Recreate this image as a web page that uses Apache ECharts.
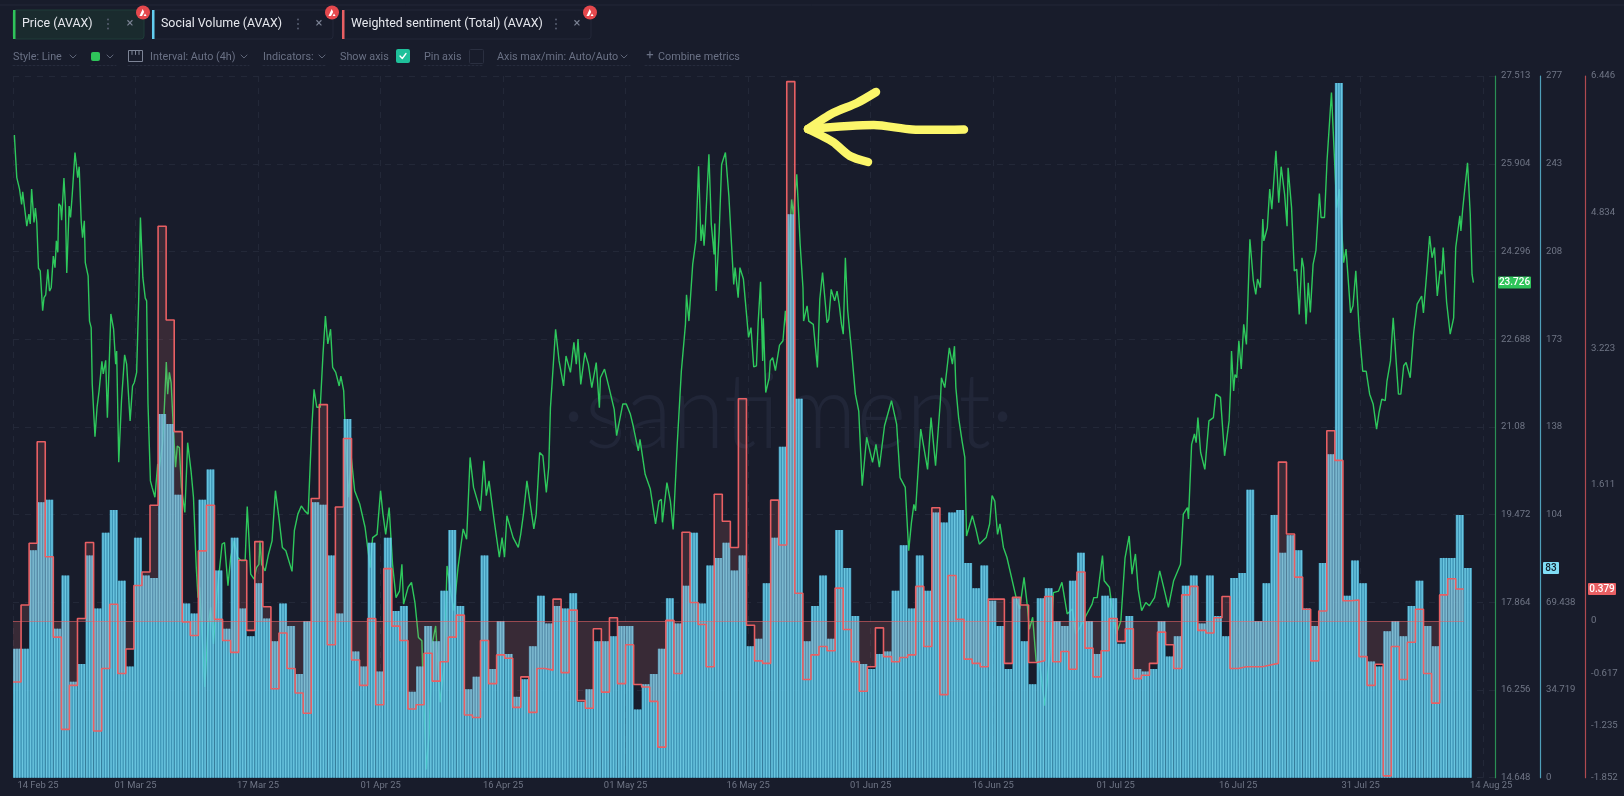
<!DOCTYPE html>
<html><head><meta charset="utf-8"><style>html,body{margin:0;padding:0;background:#181c2b}#c{width:1624px;height:796px}</style>
<script src="https://cdn.jsdelivr.net/npm/echarts@6/dist/echarts.min.js"></script></head><body><div id="c"></div>
<script>
const xTickLabels=['14 Feb 25','01 Mar 25','17 Mar 25','01 Apr 25','16 Apr 25','01 May 25','16 May 25','01 Jun 25','16 Jun 25','01 Jul 25','16 Jul 25','31 Jul 25','14 Aug 25'];
const xTickDays=[3.1,15.2,30.4,45.6,60.8,76,91.2,106.4,121.6,136.8,152,167.2,183.4];
const priceTicks=[14.648,16.256,17.864,19.472,21.08,22.688,24.296,25.904,27.513];
const volumeTicks=[0,34.719,69.438,104.157,138.875,173.6,208.3,243.03,277.75];
const sentimentTicks=[-1.852,-1.235,-0.617,0,1.611,3.223,4.834,6.446];
const socialVolume=[51,51,90,109,110,59,80,38,45,88,67,97,106,78,44,95,80,79,144,140,112,69,65,110,122,82,59,95,67,56,77,63,54,69,60,41,62,109,108,88,65,142,50,44,93,42,95,66,68,34,44,60,54,74,98,68,35,40,88,43,62,49,32,39,52,
72,61,68,67,73,30,35,54,54,56,60,60,27,37,41,51,71,61,76,97,69,84,87,93,82,88,52,55,77,95,131,223,150,54,68,80,55,98,83,64,45,43,49,50,74,92,67,88,74,105,101,105,106,85,75,84,70,60,43,71,54,37,71,75,62,60,78,
89,62,49,72,71,53,64,43,42,43,62,48,56,76,80,61,80,64,56,79,81,114,62,77,104,89,96,90,67,60,85,128,275,72,86,77,46,44,58,62,56,68,78,60,52,87,87,104,83];
const sentiment=[-0.72,0.19,0.92,2.12,0.76,-0.19,-1.28,-0.76,0.03,0.93,-1.30,-0.56,0.20,-0.62,-0.33,0.42,0.58,1.37,4.67,3.56,2.24,-0.01,-0.17,0.83,1.37,0.02,-0.23,-0.37,0.72,-0.11,0.94,0.17,-0.80,-0.14,-0.56,-0.85,-1.09,1.45,2.56,-0.28,1.35,2.16,-0.46,-0.76,0.03,-0.99,0.62,-0.06,-0.23,-1.04,-0.99,-0.38,-0.71,-0.48,-0.19,0.07,-1.11,-1.14,-0.23,-0.74,-0.40,-0.44,-1.02,-0.66,-1.08,
-0.56,-0.58,0.26,-0.61,0.13,-0.94,-1.03,-0.09,-0.84,0.04,-0.74,-0.28,-0.75,-0.78,-0.95,-1.49,0.01,-0.62,1.05,0.22,-0.04,-0.54,1.50,1.18,0.87,2.63,-0.05,-0.47,-0.50,1.43,0.90,6.38,0.33,-0.69,-0.40,-0.30,-0.35,0.39,-0.10,-0.48,-0.83,-0.54,-0.08,-0.42,-0.48,-0.43,-0.40,0.41,-0.30,1.34,-0.87,0.54,0.02,-0.45,-0.50,-0.54,0.26,0.26,-0.50,0.28,0.19,-0.49,-0.47,0.29,-0.48,-0.36,-0.57,
0.58,-0.32,-0.66,-0.35,0.03,-0.24,-0.09,-0.68,-0.64,-0.50,-0.13,-0.28,-0.56,0.31,0.41,-0.11,-0.14,0.04,0.29,-0.56,-0.54,-0.54,-0.54,-0.52,-0.50,1.88,1.03,0.52,0.14,-0.47,0.12,2.25,1.90,0.24,0.25,-0.42,-0.76,-0.51,-1.83,-0.30,-0.69,-0.25,0.14,-0.62,-0.97,0.31,0.50,0.379];
const pricePoints=[[.17,26.43],[.47,25.65],[.81,25.44],[1.07,25.16],[1.2,25.39],[1.37,25.39],[1.71,24.76],[1.97,24.98],[2.14,24.8],[2.31,25.44],[2.61,24.83],[2.78,25.09],[2.95,24.83],[3.16,23.99],[3.38,23.94],[3.68,23.21],[3.85,23.45],[4.06,23.5],[4.32,23.97],[4.53,23.57],[4.74,23.63],[5,24.21],[5.21,24],[5.38,24.49],[5.56,24.28],[5.68,25.17],[5.9,25.13],[6.03,24.87],[6.32,25.64],[6.5,25.16],[6.67,23.9],[6.97,25.13],[7.14,24.92],[7.35,25.34],[7.69,26.11],[8.03,25.65],[8.21,25.85],[8.46,24.86],[8.63,24.55],[8.85,24.86],[8.97,24.09],[9.32,23.85],[9.49,23.02],[9.7,22.9],[9.83,21.87],[10.04,21.86],[10.17,20.9],[10.43,21.44],[10.68,21.74],[11.03,22.28],[11.2,22.05],[11.5,22.3],[11.71,21.25],[12.14,23.15],[12.48,22.87],[12.74,22.23],[12.86,22.47],[13.12,20.43],[13.46,21.56],[13.85,22.4],[14.1,22.23],[14.53,21.19],[14.83,21.83],[15.04,21.89],[15.34,22.08],[15.6,23.45],[15.81,24.92],[16.11,23.82],[16.41,23.44],[16.58,23.39],[16.75,21.5],[17.05,20.09],[17.26,19.97],[17.61,19.79],[17.95,20.4],[18.12,20.28],[18.55,20.76],[18.8,21.5],[19.02,22.27],[19.19,21.68],[19.4,22.08],[19.62,21.89],[19.91,21.01],[20.17,20.34],[20.38,20.73],[20.64,20.7],[20.9,19.97],[21.32,19.51],[21.67,20.79],[22.09,20.27],[22.39,19.79],[22.74,18.5],[22.95,17.95],[23.16,18.14],[23.8,16.31],[24.23,17.47],[24.53,17.77],[24.87,17.1],[25.3,18.01],[25.94,18.93],[26.24,18.96],[26.67,18.17],[27.01,18.69],[27.44,18.99],[27.86,18.69],[28.29,18.63],[28.8,18.63],[29.06,19.62],[29.27,19.05],[29.49,18.38],[29.91,18.29],[30.21,18.5],[30.51,18.56],[30.64,18.99],[30.85,18.56],[31.28,18.44],[31.71,18.75],[32.14,18.99],[32.56,19.91],[32.99,19.42],[33.42,18.87],[33.85,18.81],[34.62,18.43],[34.91,19.18],[35.34,19.48],[35.77,19.63],[36.2,19.54],[36.62,19.48],[37.05,21.01],[37.35,21.77],[37.69,21.44],[38.12,21.44],[38.46,22.41],[38.76,23.11],[39.06,22.6],[39.4,22.87],[39.66,22.17],[40.04,22.08],[40.47,21.83],[40.68,22.01],[41.03,21.74],[41.24,20.95],[41.62,19.79],[41.97,20.52],[42.39,19.91],[43.03,19.66],[43.68,19.24],[44.32,18.5],[44.62,19.05],[45.17,19.11],[45.6,19.91],[45.9,19.48],[46.24,19.11],[46.67,19.6],[47.09,18.56],[47.52,17.95],[47.95,18.07],[48.25,18.56],[48.46,17.83],[49.02,18.14],[49.44,18.23],[49.87,17.86],[50.3,17.22],[50.73,17.16],[50.85,16.49],[51.28,14.8],[51.62,15.45],[52.01,17.1],[52.44,17.43],[52.74,16.67],[52.99,16.03],[53.5,16.67],[53.85,18.53],[54.36,18.01],[54.7,17.71],[55.21,18.5],[55.85,19.21],[56.28,19.02],[56.71,20.52],[57.14,19.97],[57.99,19.54],[58.42,20.46],[58.72,19.82],[59.06,20.09],[59.7,19.36],[60.34,18.69],[60.68,19.05],[60.98,18.69],[61.28,19.45],[62.05,19.05],[62.69,18.87],[62.99,19.11],[63.33,19.48],[63.76,20.09],[64.62,19.21],[64.91,19.48],[65.34,20.61],
[65.74,20.55],[66.17,19.88],[66.47,20.34],[66.68,21.43],[66.9,21.92],[67.32,22.87],[67.75,22.29],[67.97,22.11],[68.31,21.83],[68.61,22.38],[69.16,22.08],[69.59,22.63],[69.89,22.23],[70.1,22.69],[70.44,21.86],[70.96,22.44],[71.38,22.23],[71.81,21.8],[72.36,22.26],[72.75,21.43],[72.88,21.98],[73.39,22.14],[73.95,21.8],[74.59,21.4],[74.89,20.92],[75.66,21.5],[76.09,21.5],[76.6,21.31],[76.94,21.1],[77.58,20.64],[77.79,20.85],[78.43,20.21],[79.07,19.94],[79.72,19.3],[80.14,19.72],[80.44,19.75],[80.57,19.33],[81.13,20.06],[81.56,19.72],[81.9,19.2],[82.41,20.76],[82.92,22.1],[83.43,22.96],[83.56,23.5],[83.86,23.02],[84.33,24.06],[84.72,24.49],[85.06,25.86],[85.36,24.49],[85.57,24.79],[85.74,24.4],[85.91,24.79],[86.34,26.08],[86.64,24.79],[86.98,24.24],[87.07,24.81],[87.24,23.57],[87.62,24.67],[87.92,25.89],[88.39,26.11],[88.82,25.31],[89.03,24.73],[89.42,23.69],[89.59,24],[89.97,23.45],[90.19,24],[90.62,23.79],[91.26,22.72],[91.56,22.9],[91.9,22.18],[92.24,22.2],[92.45,22.99],[92.75,23.74],[93.01,22.29],[93.09,23.07],[93.39,21.71],[93.82,21.98],[93.95,22.29],[94.25,22.35],[94.59,22.11],[95.1,22.58],[95.53,22.66],[95.83,23.21],[96.04,22.81],[96.38,24.67],[96.6,25.25],[96.81,24.98],[97.24,25.71],[97.66,24.43],[98.01,23.63],[98.09,23.02],[98.52,23.3],[98.73,23.02],[99.29,22.96],[99.8,22.17],[100.1,23.42],[100.44,23.91],[101,22.99],[101.21,23.05],[101.51,23.6],[101.94,23.39],[102.24,23.57],[102.5,23.33],[102.79,22.96],[103.01,22.78],[103.27,24.18],[103.56,23.21],[104.08,22.41],[104.51,21.68],[104.93,21.37],[105.36,20],[105.91,20.89],[106.64,20.43],[107.07,20.76],[107.49,20.34],[108.13,21.1],[108.99,21.56],[109.63,21.13],[110.06,20.15],[110.7,19.97],[111.13,18.81],[111.47,19.33],[111.77,19.66],[111.98,19.54],[112.62,21.04],[113.47,20.3],[113.9,21.25],[114.46,20.37],[115.06,21.56],[115.19,21.98],[115.61,21.8],[116.17,22.53],[116.55,22.23],[116.81,22.56],[116.98,21.8],[117.32,21.25],[117.75,20.82],[118.09,20.52],[118.3,19.08],[119.03,19.45],[119.46,19.21],[119.89,18.93],[120.74,19.05],[121.17,19.3],[121.47,19.82],[121.81,19.72],[122.15,19.11],[122.45,19.3],[122.88,18.87],[123.31,18.69],[124.46,17.95],[124.89,17.74],[125.44,18.32],[125.87,17.77],[126.09,17.37],[126.51,17.59],[126.94,16.79],[127.37,16.73],[128.01,15.97],[128.65,16.94],[129.08,18.04],[129.72,18.07],[130.14,18.23],[130.79,17.65],[131.43,17.74],[131.85,17.28],
[132.37,17.4],[133.23,17.65],[133.88,17.83],[134.09,17.95],[134.52,17.95],[135.17,18.72],[135.38,18.26],[136.03,18.14],[136.46,17.65],[136.89,17.28],[137.45,17.52],[137.97,18.68],[138.48,19.08],[138.83,18.38],[139.26,18.75],[139.6,18.1],[140.03,17.71],[140.55,17.86],[140.98,17.8],[141.63,17.95],[142.27,18.44],[142.92,18.04],[143.35,17.77],[144,18.26],[144.85,18.56],[145.2,19.48],[145.71,19.6],[145.84,19.39],[146.23,20.76],[146.58,20.95],[146.79,20.79],[147.01,21.25],[147.35,20.61],[147.87,20.3],[148.38,21.19],[148.93,21.25],[149.23,21.68],[149.81,21.62],[150.32,20.55],[150.88,21.19],[151.05,21.74],[151.18,22.47],[151.44,21.74],[151.61,22.04],[151.83,21.98],[152.09,22.66],[152.39,22.14],[152.69,22.96],[153.03,22.59],[153.46,24.52],[153.89,23.76],[154.19,23.51],[154.41,23.79],[154.76,23.63],[155.06,24.89],[155.19,24.49],[155.62,24.73],[155.92,25.44],[156.18,25.07],[156.69,26.14],[157.04,25.19],[157.34,25.85],[157.77,25.34],[158.07,24.76],[158.2,25.83],[158.63,25.1],[158.97,23.94],[159.27,23.97],[159.58,23.14],[159.92,24.18],[160.13,24],[160.43,22.96],[160.7,23.72],[160.96,23.18],[161.3,24.06],[161.65,24.31],[162.08,25.36],[162.29,24.92],[162.72,24.92],[163.03,25.96],[163.58,27.21],[164.23,25.1],[164.57,25.44],[165.09,24.09],[165.39,24.34],[165.95,23.17],[166.25,23.3],[166.6,23.94],[167.03,22.84],[167.46,22.1],[167.89,22.1],[168.32,21.68],[168.75,21.5],[169.18,21.04],[169.48,21.34],[169.82,21.59],[170.25,21.56],[170.47,21.92],[170.9,22.29],[171.24,23.08],[171.63,22.23],[171.89,21.68],[172.19,21.68],[172.54,22.2],[172.84,22.26],[173.35,21.98],[173.78,22.81],[174.21,23.33],[174.77,23.48],[174.99,23.17],[175.42,23.94],[175.76,24.58],[176.06,24.18],[176.36,24.37],[176.71,23.48],[177.05,23.94],[177.27,23.88],[177.44,24.37],[177.87,23.36],[178.31,22.78],[178.74,23.08],[179,24.37],[179.51,24.95],[179.64,24.67],[179.86,25.07],[180.46,25.92],[180.8,24.98],[181.02,23.88],[181.19,23.726]];
const lastPrice=23.726,lastVolume=83,lastSentiment=0.379;

const FONT='Roboto, "Liberation Sans", sans-serif';
const els=[];
const rect=(x,y,w,h,fill,stroke,r,z)=>els.push({type:'rect',silent:true,z:z||0,shape:{x,y,width:w,height:h,r:r||0},style:{fill:fill||'transparent',stroke:stroke||null,lineWidth:1}});
const text=(t,x,y,fill,size,o)=>els.push({type:'text',silent:true,z:20,x,y,style:{text:t,fill,font:`${(o&&o.weight)||400} ${size}px ${FONT}`,align:(o&&o.align)||'left',verticalAlign:'middle'}});
const poly=(pts,stroke,w,z,dash,smooth)=>els.push({type:'polyline',silent:true,z:z||20,shape:{points:pts,smooth:smooth||0},style:{stroke,lineWidth:w,fill:null,lineCap:'round',lineJoin:'round',lineDash:dash||null}});
const circ=(x,y,r,fill)=>els.push({type:'circle',silent:true,z:21,shape:{cx:x,cy:y,r},style:{fill}});
const chev=(x,y)=>poly([[x-3,y-1.5],[x,y+1.5],[x+3,y-1.5]],'#5d6477',1);

// page chrome
poly([[0,5],[1624,5]],'#222738',1,1);
// watermark
els.push({type:'text',silent:true,z:0,x:788,y:414,scaleX:.91,style:{text:'·santiment·',fill:'#212638',font:`300 105px Lato, ${FONT}`,align:'center',verticalAlign:'middle'}});
// tabs
const tabs=[[13,131,'Price (AVAX)','#2fc45a','#1a2b2e','#1e3d38',22,108,130,143],[152,181,'Social Volume (AVAX)','#63cdf0',null,'#222738',161,298,319,332],[342,249,'Weighted sentiment (Total) (AVAX)','#e85f63',null,'#222738',351,556,577,590]];
tabs.forEach(([x,w,t,c,f,b,tx,dx,cx,bx])=>{
  rect(x,10,w,29,f,b,3,10);rect(x,10,2.5,29,c,null,0,11);
  text(t,tx,24,'#e6e8ee',12.4);
  [-4.5,0,4.5].forEach(d=>circ(dx,24+d,.9,'#5d6477'));
  text('×',cx,24,'#7d8496',13,{align:'center'});
  circ(bx,12.5,7,'#e5484d');
  els.push({type:'polygon',silent:true,z:22,shape:{points:[[bx-3.5,16],[bx-.3,9],[bx+1.2,12],[bx-1,16]]},style:{fill:'#fff'}});
  els.push({type:'polygon',silent:true,z:22,shape:{points:[[bx+.6,16],[bx+2,13.5],[bx+3.6,16]]},style:{fill:'#fff'}});
});
// toolbar
const tb='#6a7185';
[['Style: Line',13],['Interval: Auto (4h)',150],['Indicators:',263],['Show axis',340],['Pin axis',424],['Axis max/min: Auto/Auto',497],['Combine metrics',658]].forEach(([t,x])=>text(t,x,57,tb,10.8));
[73,110,244,322,624].forEach(x=>chev(x,56.5));
[[13,80],[91,116],[128,249],[263,327],[340,392],[424,484],[497,630],[645,733]].forEach(([a,b])=>poly([[a,65.5],[b,65.5]],'#262b3c',1,5,[2,2]));
rect(91,52,9,9,'#2fc45a',null,2,10);
rect(128.5,50.5,14,11,null,'#7d8496',0,10);
[132,135.5,139].forEach(x=>poly([[x,50.5],[x,54.5]],'#7d8496',1));
rect(396,49,14,14,'#1fc09a',null,2,10);
poly([[400,56],[402.3,58.5],[406,53.5]],'#fff',1.3);
rect(469.5,49.5,14,14,null,'#2a2f40',1,10);
text('+',650,56,tb,13,{align:'center'});
// hand-drawn arrow
const yel='#fbf66a';
poly([[964,129.5],[912,129.5],[874,125],[808,129]],yel,8.5,30,null,.25);
poly([[876,92],[857,103],[833,113],[808,129]],yel,8.5,30,null,.25);
poly([[808,129],[833,142],[850,156],[868,162]],yel,8.5,30,null,.25);

const chart=echarts.init(document.getElementById('c'),null,{renderer:'canvas'});
const XMAX=183.87;
const yA=(min,max,offset,ticks,color,fmt,split)=>({type:'value',position:'right',offset,min,max,
  axisLine:{show:true,onZero:false,lineStyle:{color,width:1.2}},axisTick:{show:false,customValues:ticks},
  axisLabel:{show:true,customValues:ticks,margin:6,color:'#6f7585',fontSize:9.6,fontFamily:FONT,formatter:fmt,hideOverlap:false,showMinLabel:true,showMaxLabel:true},
  splitLine:split?{show:true,lineStyle:{color:'#232838',type:[6,6],width:1}}:{show:false}});
const xCommon={type:'value',min:0,max:XMAX,interval:15.2};
const option={
  animation:false,backgroundColor:'#181c2b',
  grid:{left:13,right:129,top:76,bottom:18.3,containLabel:false},
  xAxis:[
    Object.assign({},xCommon,{axisLine:{show:false},axisTick:{show:false},
      splitLine:{show:true,lineStyle:{color:'#232838',type:[6,6],width:1}},
      axisLabel:{show:true,customValues:xTickDays,margin:3,color:'#6f7585',fontSize:9.4,fontFamily:FONT,hideOverlap:false,formatter:v=>xTickLabels[xTickDays.indexOf(v)]}}),
    Object.assign({},xCommon,{show:false})
  ],
  yAxis:[
    yA(14.648,27.513,0,priceTicks,'#2b8f55',v=>String(v),true),
    yA(0,277.75,45,volumeTicks,'#4f9fba',v=>v<100?String(v):String(Math.floor(v)),false),
    yA(-1.852,6.446,90,sentimentTicks,'#b04a50',v=>String(v),false)
  ],
  series:[
    {name:'Price (AVAX)',type:'line',xAxisIndex:0,yAxisIndex:0,z:2,showSymbol:false,symbol:'none',data:pricePoints,lineStyle:{color:'#2ec85c',width:1.4},silent:true},
    {name:'Social Volume base',type:'bar',xAxisIndex:1,yAxisIndex:1,z:3,barWidth:8.06,data:socialVolume.map((v,i)=>[i+.5,v]),itemStyle:{color:'rgba(75,190,230,0.75)'},silent:true},
    {name:'Social Volume (AVAX)',type:'bar',xAxisIndex:0,yAxisIndex:1,z:4,barWidth:1.35,data:socialVolume.flatMap((v,i)=>[[i+1/6,v],[i+.5,v],[i+5/6,v]]),itemStyle:{color:'rgba(118,210,235,0.8)'},silent:true},
    {name:'Weighted sentiment (Total) (AVAX)',type:'line',xAxisIndex:0,yAxisIndex:2,z:5,step:'end',showSymbol:false,symbol:'none',
     data:sentiment.map((v,i)=>[i,v]).concat([[sentiment.length,sentiment[sentiment.length-1]]]),
     lineStyle:{color:'#e85f63',width:1.6},areaStyle:{color:'rgba(255,125,125,0.2)'},silent:true,
     markLine:{silent:true,symbol:'none',label:{show:false},lineStyle:{color:'rgba(232,95,99,0.55)',type:'solid',width:1.2},data:[[{coord:[0,0]},{coord:[sentiment.length,0]}]]}}
  ],
  graphic:{elements:els}
};
chart.setOption(option);
const tagY=(axis,v)=>chart.convertToPixel({yAxisIndex:axis},v);
const tag=(x,w,y,fill,t,col)=>{rect(x,y-6,w,12,fill,null,1,25);els.push({type:'text',silent:true,z:26,x:x+w/2,y,style:{text:t,fill:col,font:`500 10px ${FONT}`,align:'center',verticalAlign:'middle'}});};
tag(1498,33,tagY(0,lastPrice),'#2fc45a',String(lastPrice),'#fff');
tag(1543,16,tagY(1,lastVolume),'#7fdcf5',String(lastVolume),'#12202c');
tag(1588,28,tagY(2,lastSentiment),'#e85f63',String(lastSentiment),'#fff');
chart.setOption({graphic:{elements:els}});
</script></body></html>
